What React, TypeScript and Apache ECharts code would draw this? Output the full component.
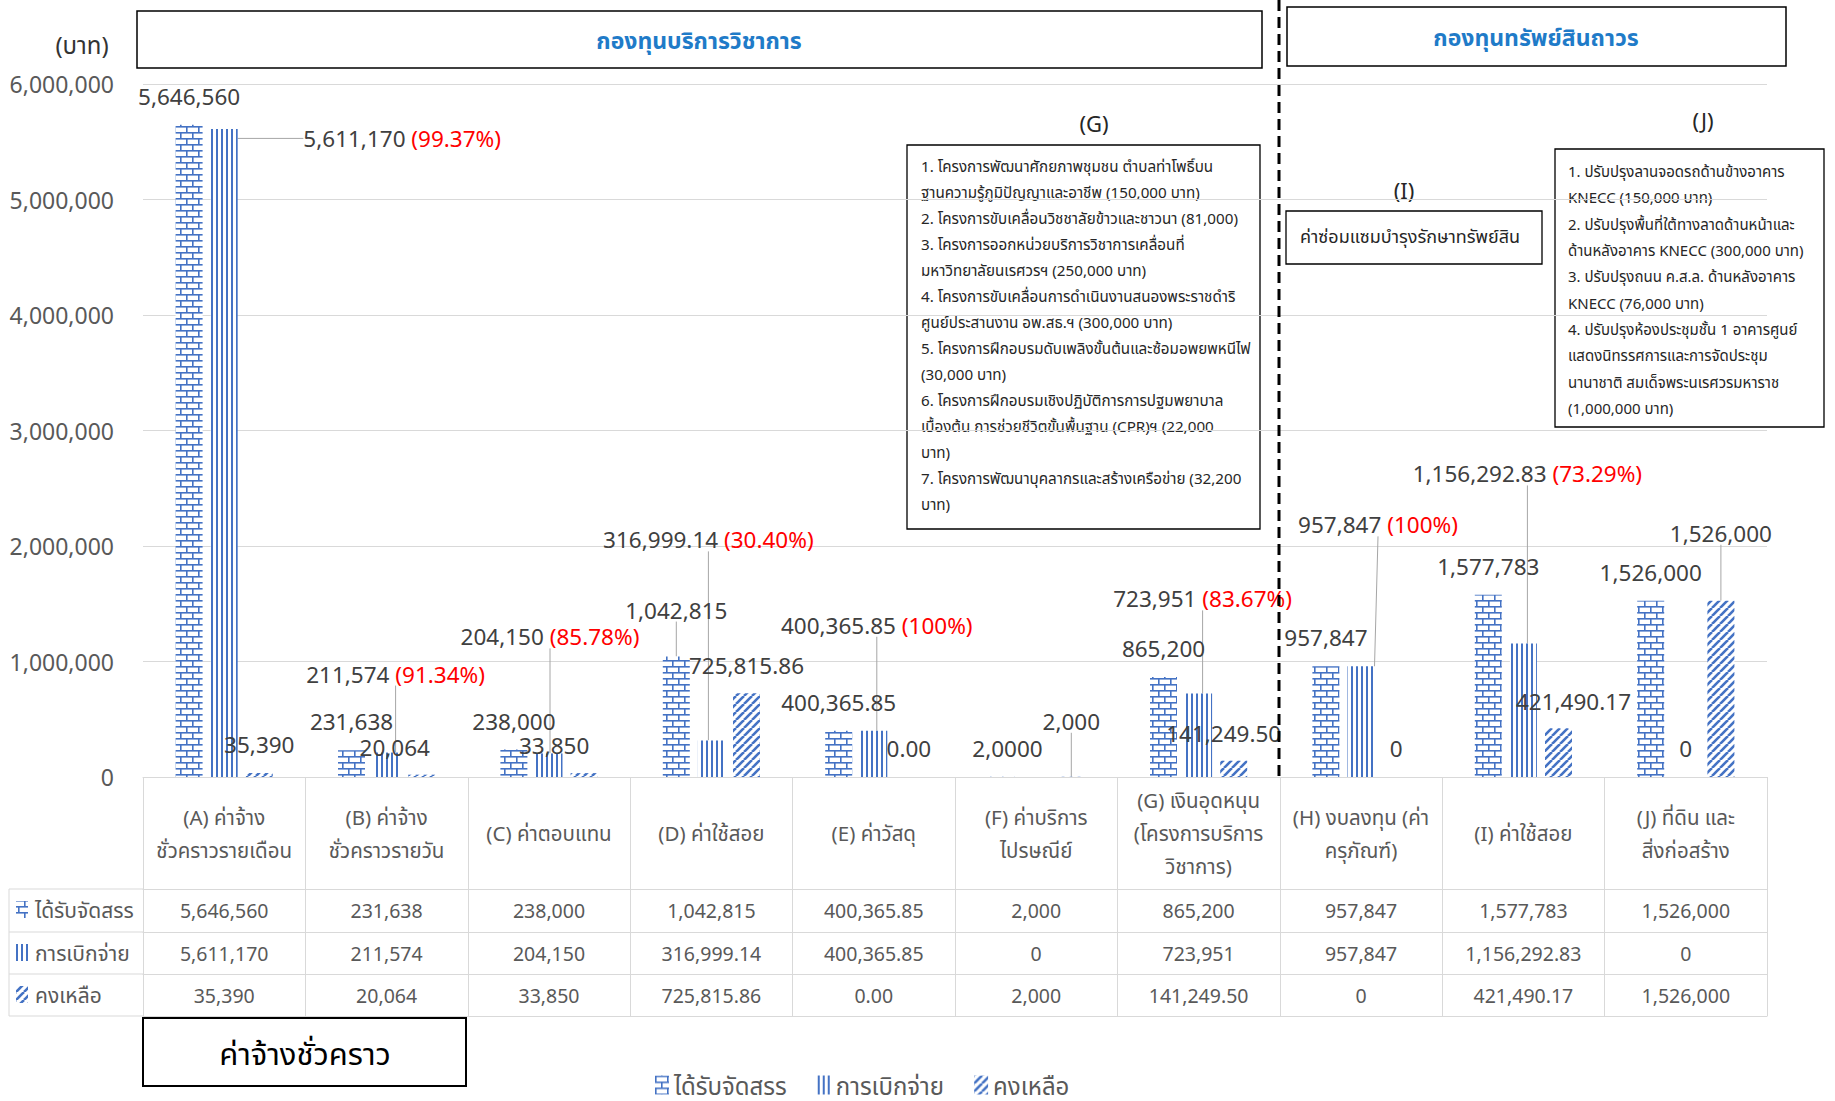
import React, { useEffect, useRef } from 'react';
import * as echarts from 'echarts';

// ---------------- DATA ----------------
const categories = [
  '(A) ค่าจ้าง\nชั่วคราวรายเดือน',
  '(B) ค่าจ้าง\nชั่วคราวรายวัน',
  '(C) ค่าตอบแทน',
  '(D) ค่าใช้สอย',
  '(E) ค่าวัสดุ',
  '(F) ค่าบริการ\nไปรษณีย์',
  '(G) เงินอุดหนุน\n(โครงการบริการ\nวิชาการ)',
  '(H) งบลงทุน (ค่า\nครุภัณฑ์)',
  '(I) ค่าใช้สอย',
  '(J) ที่ดิน และ\nสิ่งก่อสร้าง',
];
const seriesNames = ['ได้รับจัดสรร', 'การเบิกจ่าย', 'คงเหลือ'];
const allocated = [5646560, 231638, 238000, 1042815, 400365.85, 2000, 865200, 957847, 1577783, 1526000];
const allocatedDecimals = [0, 0, 0, 0, 2, 0, 0, 0, 0, 0];
const disbursed = [5611170, 211574, 204150, 316999.14, 400365.85, 0, 723951, 957847, 1156292.83, 0];
const disbursedDecimals = [0, 0, 0, 2, 2, 0, 0, 0, 2, 0];
const remaining = [35390, 20064, 33850, 725815.86, 0, 2000, 141249.5, 0, 421490.17, 1526000];
const remainingDecimals = [0, 0, 0, 2, 2, 0, 2, 0, 2, 0];
const yMin = 0;
const yMax = 6000000;
const yInterval = 1000000;

const headerLeft = 'กองทุนบริการวิชาการ';
const headerRight = 'กองทุนทรัพย์สินถาวร';
const unitLabel = '(บาท)';
const groupBoxLabel = 'ค่าจ้างชั่วคราว';
const noteG = [
  '1. โครงการพัฒนาศักยภาพชุมชน ตำบลท่าโพธิ์บน',
  'ฐานความรู้ภูมิปัญญาและอาชีพ (150,000 บาท)',
  '2. โครงการขับเคลื่อนวิชชาลัยข้าวและชาวนา (81,000)',
  '3. โครงการออกหน่วยบริการวิชาการเคลื่อนที่',
  'มหาวิทยาลัยนเรศวรฯ (250,000 บาท)',
  '4. โครงการขับเคลื่อนการดำเนินงานสนองพระราชดำริ',
  'ศูนย์ประสานงาน อพ.สธ.ฯ (300,000 บาท)',
  '5. โครงการฝึกอบรมดับเพลิงขั้นต้นและซ้อมอพยพหนีไฟ',
  '(30,000 บาท)',
  '6. โครงการฝึกอบรมเชิงปฏิบัติการการปฐมพยาบาล',
  'เบื้องต้น การช่วยชีวิตขั้นพื้นฐาน (CPR)ฯ (22,000',
  'บาท)',
  '7. โครงการพัฒนาบุคลากรและสร้างเครือข่าย (32,200',
  'บาท)',
];
const noteI = 'ค่าซ่อมแซมบำรุงรักษาทรัพย์สิน';
const noteJ = [
  '1. ปรับปรุงลานจอดรถด้านข้างอาคาร',
  'KNECC (150,000 บาท)',
  '2. ปรับปรุงพื้นที่ใต้ทางลาดด้านหน้าและ',
  'ด้านหลังอาคาร KNECC (300,000 บาท)',
  '3. ปรับปรุงถนน ค.ส.ล. ด้านหลังอาคาร',
  'KNECC (76,000 บาท)',
  '4. ปรับปรุงห้องประชุมชั้น 1 อาคารศูนย์',
  'แสดงนิทรรศการและการจัดประชุม',
  'นานาชาติ สมเด็จพระนเรศวรมหาราช',
  '(1,000,000 บาท)',
];

// ---------------- LAYOUT (label nudges, leader lines) ----------------
const allocShift = [[0, 0], [0, 0], [0, 0], [0, -18], [0, 0], [0, 0], [0, 0], [0, 0], [0, 0], [0, 0]];
const disbShift = [[178, 38], [9, -50], [1, -88], [-3, -172], [3, -77], [0, 0], [4, -66], [17, -113], [4, -141], [0, 0]];
const remShift = [[0, 0], [-27, 1], [-30, 1], [0, 1], [0, 0], [0, -27], [-10, 1], [0, 0], [15, 2], [0, -39]];
const allocLeader = [3];
const disbLeader = [0, 1, 2, 3, 4, 6, 7, 8];
const remLeader = [5, 9];

const FONT = '"Noto Sans", "Noto Sans Thai", "Tahoma", "DejaVu Sans", sans-serif';
const BLUE = '#4472C4';
const GRID = '#d9d9d9';
const TXT = '#595959';

function fmt(v: number, d: number) {
  return v.toLocaleString('en-US', { minimumFractionDigits: d, maximumFractionDigits: d });
}
function pctText(i: number) {
  const p = (disbursed[i] / allocated[i]) * 100;
  return Math.abs(p - 100) < 1e-9 ? '100' : p.toFixed(2);
}

function makeCanvas(w: number, h: number, draw: (g: CanvasRenderingContext2D) => void) {
  const c = document.createElement('canvas');
  c.width = w;
  c.height = h;
  const g = c.getContext('2d')!;
  g.fillStyle = '#ffffff';
  g.fillRect(0, 0, w, h);
  draw(g);
  return c;
}

function patterns() {
  const brick = makeCanvas(12, 12, (g) => {
    g.fillStyle = BLUE;
    g.fillRect(0, 0, 12, 1.6);
    g.fillRect(0, 6, 12, 1.6);
    g.fillRect(0, 0, 1.6, 6);
    g.fillRect(6, 6, 1.6, 6);
  });
  const vlines = makeCanvas(5, 4, (g) => {
    g.fillStyle = BLUE;
    g.fillRect(1, 0, 2, 4);
  });
  const diag = makeCanvas(8, 8, (g) => {
    g.strokeStyle = BLUE;
    g.lineWidth = 2.6;
    for (const k of [-8, 0, 8]) {
      g.beginPath();
      g.moveTo(k, 8);
      g.lineTo(k + 8, 0);
      g.stroke();
    }
  });
  return [
    { image: brick, repeat: 'repeat', imageWidth: 12, imageHeight: 12 },
    { image: vlines, repeat: 'repeat', imageWidth: 5, imageHeight: 4 },
    { image: diag, repeat: 'repeat', imageWidth: 8, imageHeight: 8 },
  ];
}

export default function App() {
  const ref = useRef<HTMLDivElement>(null);
  useEffect(() => {
    const chart = echarts.init(ref.current!, null, { renderer: 'svg' });
    const pats = patterns();

    const labelBase = {
      show: true,
      position: 'top',
      distance: 17,
      fontSize: 22.5,
      color: '#404040',
      fontFamily: FONT,
    };
    const lineStyle = { color: '#a6a6a6', width: 1 };

    const mkData = (vals: number[], leaders: number[]) =>
      vals.map((v, i) => ({ value: v, labelLine: { show: leaders.includes(i), lineStyle } }));

    const rowAxis = (offset: number, tickLen: number, formatter: any, margin: number, showLabel: boolean, fontSize: number) => ({
      type: 'category',
      data: categories,
      gridIndex: 0,
      position: 'bottom',
      offset,
      boundaryGap: true,
      axisLine: { show: true, lineStyle: { color: GRID, width: 1 } },
      axisTick: { show: tickLen > 0, length: tickLen, interval: 0, alignWithLabel: false, lineStyle: { color: GRID, width: 1 } },
      axisLabel: {
        show: showLabel,
        interval: 0,
        formatter,
        margin,
        verticalAlign: 'middle',
        fontSize,
        lineHeight: 33,
        color: TXT,
        fontFamily: FONT,
      },
      splitLine: { show: false },
    });

    const rowIcons: any[] = [];
    const rowY = [910, 953, 995];
    seriesNames.forEach((n, k) => {
      rowIcons.push({
        type: 'rect',
        shape: { x: 16, y: rowY[k] - 9, width: 12, height: 17 },
        style: { fill: pats[k] as any },
      });
      rowIcons.push({
        type: 'text',
        x: 35,
        y: rowY[k],
        style: { text: n, fontSize: 21, fill: TXT, fontFamily: FONT, verticalAlign: 'middle', align: 'left' },
      });
    });

    const option: any = {
      animation: false,
      textStyle: { fontFamily: FONT },
      grid: { left: 143, right: 68, top: 84, bottom: 324, containLabel: false },
      legend: {
        data: seriesNames,
        left: 650,
        top: 1068,
        icon: 'rect',
        itemWidth: 14,
        itemHeight: 19,
        itemGap: 30,
        selectedMode: false,
        textStyle: { fontSize: 24, color: TXT, fontFamily: FONT },
      },
      xAxis: [
        rowAxis(0, 112, (v: string) => v, 56, true, 20.5),
        rowAxis(112, 43, (_v: string, i: number) => fmt(allocated[i], allocatedDecimals[i]), 21, true, 19.5),
        rowAxis(155, 42, (_v: string, i: number) => fmt(disbursed[i], disbursedDecimals[i]), 21, true, 19.5),
        rowAxis(197, 42, (_v: string, i: number) => fmt(remaining[i], remainingDecimals[i]), 21, true, 19.5),
        rowAxis(239, 0, () => '', 10, false, 19.5),
      ],
      yAxis: {
        type: 'value',
        min: yMin,
        max: yMax,
        interval: yInterval,
        axisLine: { show: false },
        axisTick: { show: false },
        splitLine: { lineStyle: { color: GRID, width: 1 } },
        axisLabel: {
          fontSize: 23,
          color: TXT,
          margin: 29,
          fontFamily: FONT,
          formatter: (v: number) => v.toLocaleString('en-US'),
        },
      },
      series: [
        {
          name: seriesNames[0],
          type: 'bar',
          xAxisIndex: 0,
          barWidth: 27,
          barGap: '30%',
          itemStyle: { color: pats[0] },
          data: mkData(allocated, allocLeader),
          label: { ...labelBase, formatter: (p: any) => fmt(allocated[p.dataIndex], allocatedDecimals[p.dataIndex]) },
          labelLayout: (p: any) => ({ dx: allocShift[p.dataIndex][0], dy: allocShift[p.dataIndex][1] }),
          labelLine: { show: false, lineStyle },
        },
        {
          name: seriesNames[1],
          type: 'bar',
          xAxisIndex: 0,
          barWidth: 27,
          barGap: '30%',
          itemStyle: { color: pats[1] },
          data: mkData(disbursed, disbLeader),
          label: {
            ...labelBase,
            formatter: (p: any) => {
              const i = p.dataIndex;
              const v = fmt(disbursed[i], disbursedDecimals[i]);
              if (disbursed[i] === 0) return `{v|${v}}`;
              return `{v|${v}} {p|(${pctText(i)}%)}`;
            },
            rich: {
              v: { fontSize: 22.5, color: '#404040', fontFamily: FONT },
              p: { fontSize: 22.5, color: '#ff0000', fontFamily: FONT },
            },
          },
          labelLayout: (p: any) => ({ dx: disbShift[p.dataIndex][0], dy: disbShift[p.dataIndex][1] }),
          labelLine: { show: false, lineStyle },
        },
        {
          name: seriesNames[2],
          type: 'bar',
          xAxisIndex: 0,
          barWidth: 27,
          barGap: '30%',
          itemStyle: { color: pats[2] },
          data: mkData(remaining, remLeader),
          label: { ...labelBase, formatter: (p: any) => fmt(remaining[p.dataIndex], remainingDecimals[p.dataIndex]) },
          labelLayout: (p: any) => ({ dx: remShift[p.dataIndex][0], dy: remShift[p.dataIndex][1] }),
          labelLine: { show: false, lineStyle },
        },
      ],
      graphic: [
        // header boxes
        { type: 'rect', shape: { x: 137, y: 11, width: 1125, height: 57 }, style: { fill: 'rgba(0,0,0,0)', stroke: '#000', lineWidth: 1.5 } },
        { type: 'text', x: 699, y: 40, style: { text: headerLeft, fontSize: 23, fontWeight: 'bold', fill: '#1f7bc8', fontFamily: FONT, align: 'center', verticalAlign: 'middle' } },
        { type: 'rect', shape: { x: 1287, y: 7, width: 499, height: 59 }, style: { fill: 'rgba(0,0,0,0)', stroke: '#000', lineWidth: 1.5 } },
        { type: 'text', x: 1536, y: 37, style: { text: headerRight, fontSize: 23, fontWeight: 'bold', fill: '#1f7bc8', fontFamily: FONT, align: 'center', verticalAlign: 'middle' } },
        // unit
        { type: 'text', x: 82, y: 44, style: { text: unitLabel, fontSize: 24, fill: '#333', fontFamily: FONT, align: 'center', verticalAlign: 'middle' } },
        // dashed divider
        { type: 'line', shape: { x1: 1279, y1: 0, x2: 1279, y2: 777 }, style: { stroke: '#000', lineWidth: 3, lineDash: [11, 6] }, z: 10 },
        // G note
        { type: 'text', x: 1094, y: 123, style: { text: '(G)', fontSize: 22, fill: '#262626', fontFamily: FONT, align: 'center', verticalAlign: 'middle' } },
        { type: 'rect', shape: { x: 907, y: 145, width: 353, height: 384 }, style: { fill: 'rgba(0,0,0,0)', stroke: '#000', lineWidth: 1.3 } },
        { type: 'text', x: 921, y: 153, style: { text: noteG.join('\n'), fontSize: 15.2, lineHeight: 26, fill: '#262626', fontFamily: FONT, align: 'left', verticalAlign: 'top' } },
        // I note
        { type: 'text', x: 1404, y: 190, style: { text: '(I)', fontSize: 22, fill: '#262626', fontFamily: FONT, align: 'center', verticalAlign: 'middle' } },
        { type: 'rect', shape: { x: 1286, y: 211, width: 256, height: 53 }, style: { fill: 'rgba(0,0,0,0)', stroke: '#000', lineWidth: 1.3 } },
        { type: 'text', x: 1300, y: 236, style: { text: noteI, fontSize: 18, fill: '#262626', fontFamily: FONT, align: 'left', verticalAlign: 'middle' } },
        // J note
        { type: 'text', x: 1703, y: 120, style: { text: '(J)', fontSize: 22, fill: '#262626', fontFamily: FONT, align: 'center', verticalAlign: 'middle' } },
        { type: 'rect', shape: { x: 1555, y: 149, width: 269, height: 278 }, style: { fill: 'rgba(0,0,0,0)', stroke: '#000', lineWidth: 1.3 } },
        { type: 'text', x: 1568, y: 158, style: { text: noteJ.join('\n'), fontSize: 15, lineHeight: 26.3, fill: '#262626', fontFamily: FONT, align: 'left', verticalAlign: 'top' } },
        // temporary wage box
        { type: 'rect', shape: { x: 143, y: 1018, width: 323, height: 68 }, style: { fill: '#fff', stroke: '#000', lineWidth: 2 } },
        { type: 'text', x: 305, y: 1053, style: { text: groupBoxLabel, fontSize: 31, fill: '#000', fontFamily: FONT, align: 'center', verticalAlign: 'middle' } },
        // left column of table
        { type: 'line', shape: { x1: 9, y1: 889, x2: 143, y2: 889 }, style: { stroke: GRID, lineWidth: 1 } },
        { type: 'line', shape: { x1: 9, y1: 932, x2: 143, y2: 932 }, style: { stroke: GRID, lineWidth: 1 } },
        { type: 'line', shape: { x1: 9, y1: 974, x2: 143, y2: 974 }, style: { stroke: GRID, lineWidth: 1 } },
        { type: 'line', shape: { x1: 9, y1: 1016, x2: 143, y2: 1016 }, style: { stroke: GRID, lineWidth: 1 } },
        { type: 'line', shape: { x1: 9, y1: 889, x2: 9, y2: 1016 }, style: { stroke: GRID, lineWidth: 1 } },
        ...rowIcons,
      ],
    };
    chart.setOption(option);
    return () => chart.dispose();
  }, []);
  return (
    <div
      ref={ref}
      style={{ position: 'fixed', left: 0, top: 0, width: 1835, height: 1101, background: '#fff' }}
    />
  );
}
